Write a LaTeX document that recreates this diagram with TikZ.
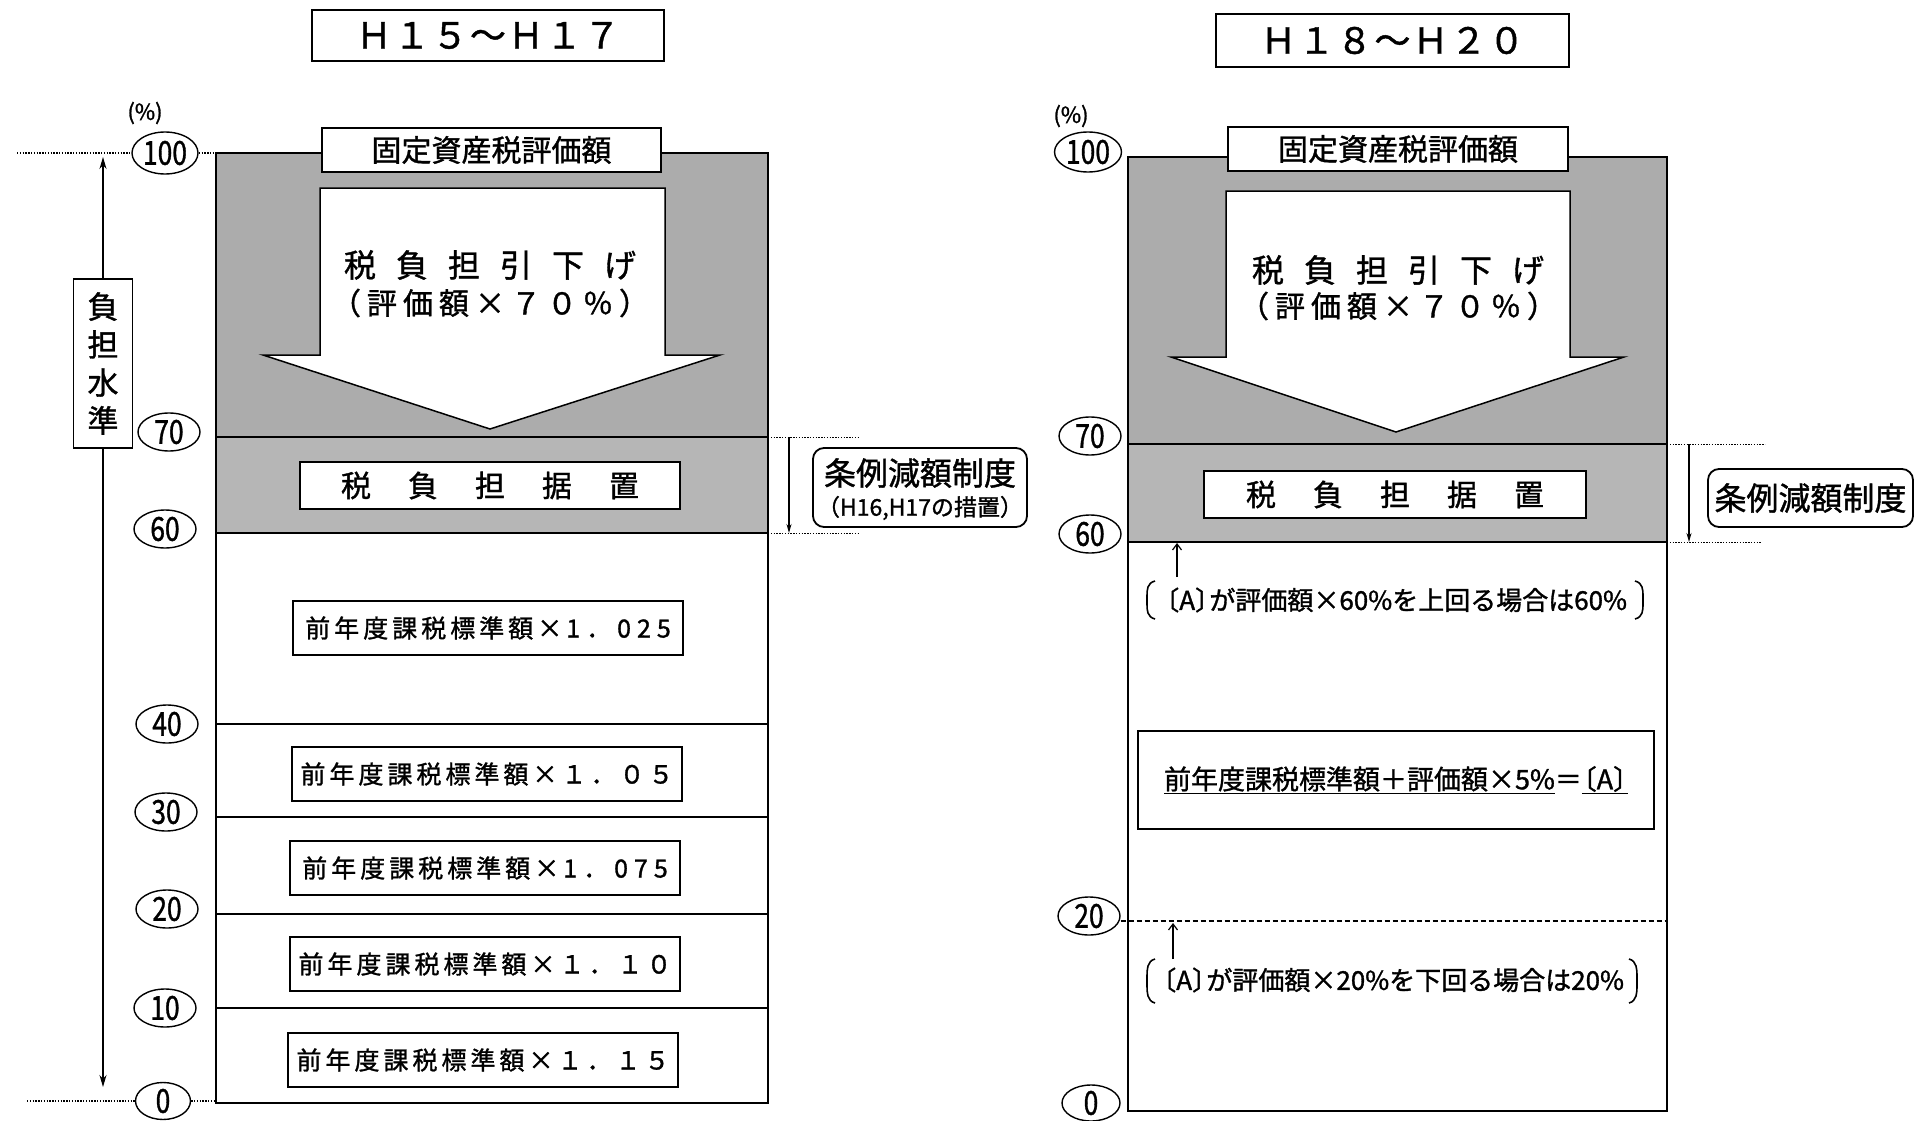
\documentclass[tikz,border=0pt]{standalone}
\usepackage{fontspec}
\setmainfont{Noto Sans CJK JP}[FakeBold=1.2]
\usetikzlibrary{shapes.geometric,arrows.meta}
\definecolor{gA}{RGB}{172,172,172}
\definecolor{gB}{RGB}{182,182,182}
\newcommand\fsz[1]{\fontsize{#1pt}{#1pt}\selectfont}
\newcommand\sx[1]{\scalebox{0.8}[1]{#1}}
\newcommand\lbk{\hbox to .55em{\hss〔}}
\newcommand\rbk{\hbox to .55em{〕\hss}}
\makeatletter
\newcommand\spread[2]{\def\spr@gap{\kern#1\relax}\spr@first#2\spr@end}
\def\spr@end{}
\def\spr@first#1{#1\spr@next}
\def\spr@next#1{\ifx#1\spr@end\else\spr@gap#1\expandafter\spr@next\fi}
\makeatother
\begin{document}
\begin{tikzpicture}[x=1pt,y=-1pt,
  wbox/.style={draw, line width=1.8pt, fill=white, inner sep=0pt},
  rbox/.style={draw, line width=1.8pt, fill=white, inner sep=0pt, rounded corners=11pt},
  scl/.style={draw, ellipse, line width=1.4pt, fill=white, inner sep=0pt, minimum width=62pt, minimum height=38pt, font=\fsz{33}},
  dotln/.style={line width=1.3pt, dash pattern=on 1.4pt off 1.4pt},
  dashln/.style={line width=1.5pt, dash pattern=on 5pt off 3pt},
  pnl/.style={line width=2pt},
  lvl/.style={line width=1.8pt},
  tipd/.style={-{Stealth[length=12pt,width=7pt]}, line width=1.3pt},
  tips/.style={-{Straight Barb[length=6pt,width=9pt]}, line width=1.2pt},
  txt/.style={inner sep=0pt},
  fbox/.style={wbox, minimum width=390pt, minimum height=54pt, font=\fsz{25}},
  bigarrow/.style={line width=1.5pt, fill=white},
]
\useasboundingbox (0,0) rectangle (1920,1121);
\fill[white] (0,0) rectangle (1920,1121);

% ================= LEFT PANEL =================
\fill[gA] (216,153) rectangle (768,437);
\fill[gB] (216,437) rectangle (768,533);
\draw[pnl] (216,153) rectangle (768,1103);
\draw[line width=2.6pt] (216,437) -- (768,437);
\draw[line width=2.2pt] (216,533) -- (768,533);
\foreach \yy in {724,817,914,1008} \draw[lvl] (216,\yy) -- (768,\yy);
\draw[bigarrow] (320,188) -- (665,188) -- (665,355) -- (720,355) -- (490,429) -- (263,355) -- (320,355) -- cycle;

\node[wbox, minimum width=352pt, minimum height=51pt] (ltitle) at (488,35.5) {\fsz{36}\spread{2pt}{Ｈ１５～Ｈ１７}};
\node[wbox, minimum width=339pt, minimum height=44pt] (lassess) at (491.5,150) {\fsz{30}固定資産税評価額};
\node[txt] (ldown) at (490,265) {\fsz{32}\spread{20pt}{税負担引下げ}};
\node[txt] (lratio) at (490,303) {\fsz{30}\spread{6pt}{（評価額×７０％）}};
\node[wbox, minimum width=380pt, minimum height=47pt] (lkeep) at (490,485.5) {\fsz{30}\spread{37pt}{税負担据置}};

\node[fbox] (f1) at (488,628) {\spread{4pt}{前年度課税標準額×}\kern4pt\spread{6pt}{1．025}};
\node[fbox] (f2) at (487,774) {\spread{4pt}{前年度課税標準額×}\kern4pt\spread{4pt}{１．０５}};
\node[fbox] (f3) at (485,868) {\spread{4pt}{前年度課税標準額×}\kern4pt\spread{6pt}{1．075}};
\node[fbox] (f4) at (485,964) {\spread{4pt}{前年度課税標準額×}\kern4pt\spread{4pt}{１．１０}};
\node[fbox] (f5) at (483,1060) {\spread{4pt}{前年度課税標準額×}\kern4pt\spread{4pt}{１．１５}};

% scale
\node[txt] (lpct) at (145,113) {\fsz{22}(\%)};
\node[scl, minimum width=66pt, minimum height=42pt] (l100) at (165,153) {\sx{100}};
\node[scl] (l70) at (169,432) {\sx{70}};
\node[scl] (l60) at (165,529) {\sx{60}};
\node[scl] (l40) at (167,724) {\sx{40}};
\node[scl] (l30) at (166,812) {\sx{30}};
\node[scl] (l20) at (167,909) {\sx{20}};
\node[scl] (l10) at (165,1008) {\sx{10}};
\node[scl, minimum width=55pt, minimum height=37pt] (l0) at (163,1101) {\sx{0}};

\coordinate (d100a) at (17,153);
\coordinate (d100b) at (216,153);
\coordinate (d0a) at (27,1101);
\coordinate (d0b) at (216,1101);
\draw[dotln] (d100a) -- (l100.west);
\draw[dotln] (l100.east) -- (d0b |- l100.east) -- (d100b);
\draw[dotln] (d0a) -- (l0.west);
\draw[dotln] (l0.east) -- (d0b);

\node[wbox, minimum width=59pt, minimum height=169pt, align=center, font=\fontsize{31pt}{38pt}\selectfont] (lbl) at (103,363.5) {負\\担\\水\\準};
\coordinate (vtop) at (103,157);
\coordinate (vbot) at (103,1087);
\draw[tipd] (lbl) -- (vtop);
\draw[tipd] (lbl) -- (vbot);

% ordinance (left)
\coordinate (lo1) at (768,437);
\coordinate (lo1e) at (860,437);
\coordinate (lo2) at (768,533);
\coordinate (lo2e) at (858,533);
\coordinate (lda) at (789,437);
\coordinate (ldb) at (789,533);
\draw[dotln, line width=1pt] (lo1) -- (lo1e);
\draw[dotln, line width=1pt] (lo2) -- (lo2e);
\draw[-{Stealth[length=9pt,width=5pt]}, line width=1.2pt] (lda) -- (ldb);
\node[rbox, minimum width=214pt, minimum height=79pt] (lord) at (920,487.5) {};
\node[txt] (lord1) at (920,473) {\fsz{32}条例減額制度};
\node[txt] (lord2) at (920,508) {\fsz{23}（H16,H17の措置）};

% ================= RIGHT PANEL =================
\fill[gA] (1128,157) rectangle (1667,444);
\fill[gB] (1128,444) rectangle (1667,542);
\draw[pnl] (1128,157) rectangle (1667,1111);
\draw[line width=2.6pt] (1128,444) -- (1667,444);
\draw[line width=2.2pt] (1128,542) -- (1667,542);
\draw[bigarrow] (1226,191) -- (1570,191) -- (1570,357) -- (1624,357) -- (1396,432) -- (1171,357) -- (1226,357) -- cycle;

\node[wbox, minimum width=353pt, minimum height=53pt] (rtitle) at (1392.5,40.5) {\fsz{36}\spread{2pt}{Ｈ１８～Ｈ２０}};
\node[wbox, minimum width=340pt, minimum height=44pt] (rassess) at (1398,149) {\fsz{30}固定資産税評価額};
\node[txt] (rdown) at (1398,270) {\fsz{32}\spread{20pt}{税負担引下げ}};
\node[txt] (rratio) at (1398,306) {\fsz{30}\spread{6pt}{（評価額×７０％）}};
\node[wbox, minimum width=382pt, minimum height=47pt] (rkeep) at (1395,494.5) {\fsz{30}\spread{37pt}{税負担据置}};

\node[txt] (rpct) at (1071,116) {\fsz{22}(\%)};
\node[scl, minimum width=67pt, minimum height=40pt] (r100) at (1088,152) {\sx{100}};
\node[scl] (r70) at (1090,436) {\sx{70}};
\node[scl] (r60) at (1090,534) {\sx{60}};
\node[scl] (r20) at (1089,916) {\sx{20}};
\node[scl, minimum width=58pt, minimum height=36pt] (r0) at (1091,1103) {\sx{0}};

% ordinance (right)
\coordinate (ro1) at (1667,444);
\coordinate (ro1e) at (1765,444);
\coordinate (ro2) at (1667,542);
\coordinate (ro2e) at (1762,542);
\coordinate (rda) at (1689,444);
\coordinate (rdb) at (1689,542);
\draw[dotln, line width=1pt] (ro1) -- (ro1e);
\draw[dotln, line width=1pt] (ro2) -- (ro2e);
\draw[-{Stealth[length=9pt,width=5pt]}, line width=1.2pt] (rda) -- (rdb);
\node[rbox, minimum width=205pt, minimum height=58pt, font=\fsz{32}] (rord) at (1810.5,498) {条例減額制度};

% upper limit note
\node[txt] (rup) at (1396,600) {\fsz{26}\lbk A\rbk が評価額×60\%を上回る場合は60\%};
\draw[line width=1.6pt] (1155,581) .. controls (1147,583) and (1147,590) .. (1147,596) -- (1147,604) .. controls (1147,610) and (1147,617) .. (1155,619);
\draw[line width=1.6pt] (1635,581) .. controls (1643,583) and (1643,590) .. (1643,596) -- (1643,604) .. controls (1643,610) and (1643,617) .. (1635,619);
\coordinate (rua) at (1177,577);
\coordinate (rub) at (1177,543);
\draw[tips] (rua) -- (rub);

% formula
\node[wbox, minimum width=516pt, minimum height=98pt, font=\fsz{27}] (rform) at (1396,780) {\underline{前年度課税標準額＋評価額×5\%}＝\underline{\lbk A\rbk}};

% lower limit
\coordinate (r20b) at (1667,921);
\draw[dashln] (r20.east |- r20b) -- (r20b);
\coordinate (rla) at (1173,959);
\coordinate (rlb) at (1173,923);
\draw[tips] (rla) -- (rlb);
\node[txt] (rlow) at (1393,980) {\fsz{26}\lbk A\rbk が評価額×20\%を下回る場合は20\%};
\draw[line width=1.6pt] (1155,959) .. controls (1147,961) and (1147,970) .. (1147,976) -- (1147,986) .. controls (1147,992) and (1147,1001) .. (1155,1003);
\draw[line width=1.6pt] (1629,959) .. controls (1637,961) and (1637,970) .. (1637,976) -- (1637,986) .. controls (1637,992) and (1637,1001) .. (1629,1003);
\end{tikzpicture}
\end{document}
